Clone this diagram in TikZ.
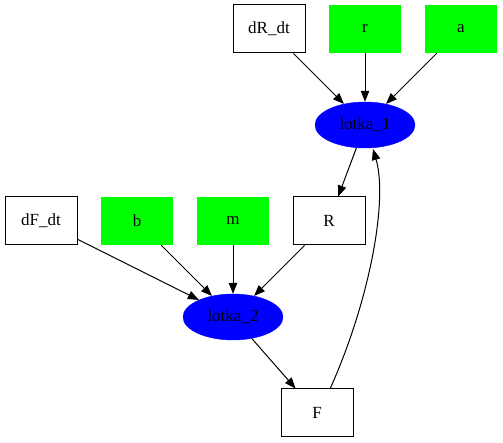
\documentclass[tikz,border=0pt]{standalone}
\usepackage{fontspec}
\setmainfont{Liberation Serif}
\usetikzlibrary{arrows.meta,shapes.geometric}
\begin{document}
\begin{tikzpicture}[x=1pt,y=1pt,
  every node/.style={font=\fontsize{17pt}{19pt}\selectfont, inner sep=0pt},
  plainbox/.style={draw=black, line width=1pt, minimum width=72pt, minimum height=48pt},
  greenbox/.style={fill=green, minimum width=72pt, minimum height=48pt},
  blueell/.style={ellipse, fill=blue, draw=blue, minimum width=100pt, minimum height=46pt},
  edge/.style={draw=black, line width=1pt, -{Triangle[length=11pt,width=8.5pt]}}]
\useasboundingbox (0,0) rectangle (503,443);
\node[plainbox] (dRdt) at (269,414) {dR\_dt};
\node[greenbox] (r) at (365,414) {r};
\node[greenbox] (a) at (461,414) {a};
\node[blueell] (l1) at (365,318) {lotka\_1};
\node[plainbox] (dFdt) at (41,222) {dF\_dt};
\node[greenbox] (b) at (137,222) {b};
\node[greenbox] (m) at (233,222) {m};
\node[plainbox] (R) at (329,222) {R};
\node[blueell] (l2) at (233,126) {lotka\_2};
\node[plainbox] (F) at (317,30) {F};
\draw[edge] (dRdt) -- (l1);
\draw[edge] (r) -- (l1);
\draw[edge] (a) -- (l1);
\draw[edge] (l1) -- (R);
\draw[edge] (dFdt) -- (l2);
\draw[edge] (b) -- (l2);
\draw[edge] (m) -- (l2);
\draw[edge] (R) -- (l2);
\draw[edge] (l2) -- (F);
\coordinate (fs) at (330,54);
\coordinate (fe) at (373,294);
\draw[edge] (fs) .. controls (370,143) and (388,243) .. (fe);
\end{tikzpicture}
\end{document}
